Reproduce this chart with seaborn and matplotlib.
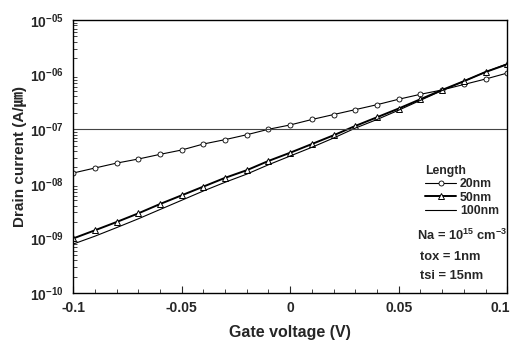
import matplotlib
matplotlib.use("Agg")
import matplotlib.pyplot as plt
import matplotlib.ticker as mticker
import matplotlib.transforms as mtransforms
import numpy as np
import pandas as pd
import seaborn as sns

# gate voltage sweep (V)
gate_v = [-0.1, -0.09, -0.08, -0.07, -0.06, -0.05, -0.04, -0.03, -0.02, -0.01, 0.0,
          0.01, 0.02, 0.03, 0.04, 0.05, 0.06, 0.07, 0.08, 0.09, 0.1]

# drain current (A/um) for each channel length
i_20nm = [1.58e-8, 1.95e-8, 2.40e-8, 2.85e-8, 3.47e-8, 4.17e-8, 5.37e-8, 6.46e-8, 7.94e-8, 1.0e-7, 1.20e-7,
          1.51e-7, 1.86e-7, 2.29e-7, 2.82e-7, 3.55e-7, 4.37e-7, 5.25e-7, 6.61e-7, 8.32e-7, 1.07e-6]
i_50nm = [1.0e-9, 1.41e-9, 2.0e-9, 2.88e-9, 4.27e-9, 6.17e-9, 8.91e-9, 1.29e-8, 1.78e-8, 2.63e-8, 3.72e-8,
          5.37e-8, 7.76e-8, 1.15e-7, 1.66e-7, 2.40e-7, 3.55e-7, 5.25e-7, 7.59e-7, 1.12e-6, 1.55e-6]
i_100nm = [7.9e-10, 1.10e-9, 1.58e-9, 2.29e-9, 3.39e-9, 5.01e-9, 7.41e-9, 1.07e-8, 1.51e-8, 2.24e-8, 3.24e-8,
           4.68e-8, 6.92e-8, 1.05e-7, 1.51e-7, 2.24e-7, 3.39e-7, 5.13e-7, 7.59e-7, 1.12e-6, 1.58e-6]
ref_current = 1e-7

x_ticks = [-0.1, -0.05, 0, 0.05, 0.1]
x_ticklabels = ["-0.1", "-0.05", "0", "0.05", "0.1"]
y_ticks = [1e-10, 1e-9, 1e-8, 1e-7, 1e-6, 1e-5]
y_ticklabels = [r"$\mathbf{10^{-10}}$", r"$\mathbf{10^{-09}}$", r"$\mathbf{10^{-08}}$",
                r"$\mathbf{10^{-07}}$", r"$\mathbf{10^{-06}}$", r"$\mathbf{10^{-05}}$"]

sns.set_style("ticks")
plt.rcParams["font.family"] = ["Liberation Sans", "Noto Sans CJK KR", "DejaVu Sans"]
plt.rcParams["font.weight"] = "bold"
plt.rcParams["mathtext.fontset"] = "custom"
plt.rcParams["mathtext.bf"] = "Liberation Sans:bold"
plt.rcParams["mathtext.rm"] = "Liberation Sans:bold"
plt.rcParams["mathtext.default"] = "bf"

df = pd.DataFrame({"Vg": gate_v, "20nm": i_20nm, "50nm": i_50nm, "100nm": i_100nm})

fig = plt.figure(figsize=(5.15, 3.4), dpi=100)
ax = fig.add_axes([0.142, 0.138, 0.843, 0.803])

sns.lineplot(data=df, x="Vg", y="20nm", ax=ax, color="black", lw=0.8, marker="o",
             markersize=3.6, markerfacecolor="white", markeredgecolor="black",
             markeredgewidth=0.6, label="20nm")
sns.lineplot(data=df, x="Vg", y="50nm", ax=ax, color="black", lw=1.4, marker="^",
             markersize=4.2, markerfacecolor="white", markeredgecolor="black",
             markeredgewidth=0.7, label="50nm")
sns.lineplot(data=df, x="Vg", y="100nm", ax=ax, color="black", lw=0.8, label="100nm")
ax.axhline(ref_current, color="#444444", lw=0.8)

ax.set_yscale("log")
ax.set_xlim(-0.1, 0.1)
ax.set_ylim(1e-10, 1e-5)
ax.set_xticks(x_ticks)
ax.set_xticklabels(x_ticklabels)
ax.xaxis.set_minor_locator(mticker.MultipleLocator(0.01))
ax.set_yticks(y_ticks)
ax.set_yticklabels(y_ticklabels)
ax.yaxis.set_minor_locator(mticker.LogLocator(base=10, subs=np.arange(2, 10), numticks=20))
ax.yaxis.set_minor_formatter(mticker.NullFormatter())

ax.tick_params(which="major", direction="in", length=5, width=0.8, labelsize=10, pad=6)
ax.tick_params(which="minor", direction="in", length=3, width=0.6)
ax.tick_params(axis="y", which="major", length=0, pad=7)
ax.tick_params(axis="y", which="minor", length=3)
for sp in ax.spines.values():
    sp.set_linewidth(1.0)
    sp.set_color("black")

# keep the last x label inside the figure edge
last = ax.get_xticklabels()[-1]
last.set_transform(last.get_transform() + mtransforms.ScaledTranslation(-5 / 72, 0, fig.dpi_scale_trans))

ax.set_xlabel("Gate voltage (V)", fontsize=11.5, fontweight="bold", labelpad=7)
ax.set_ylabel("Drain current (A/㎛)", fontsize=11, fontweight="bold", labelpad=2)

leg = ax.legend(title="Length", loc="upper left", bbox_to_anchor=(0.79, 0.50),
                frameon=False, fontsize=8.8, title_fontsize=8.8, handlelength=2.6,
                handletextpad=0.3, labelspacing=0.1, borderpad=0.2)
leg.get_title().set_fontweight("bold")
leg._legend_box.align = "left"

ax.text(0.793, 0.196, r"Na = 10$^{15}$ cm$^{-3}$", transform=ax.transAxes, fontsize=9.3,
        fontweight="bold")
ax.text(0.800, 0.122, "tox = 1nm", transform=ax.transAxes, fontsize=9.3, fontweight="bold")
ax.text(0.800, 0.050, "tsi = 15nm", transform=ax.transAxes, fontsize=9.3, fontweight="bold")

fig.savefig("out.png", dpi=100)
